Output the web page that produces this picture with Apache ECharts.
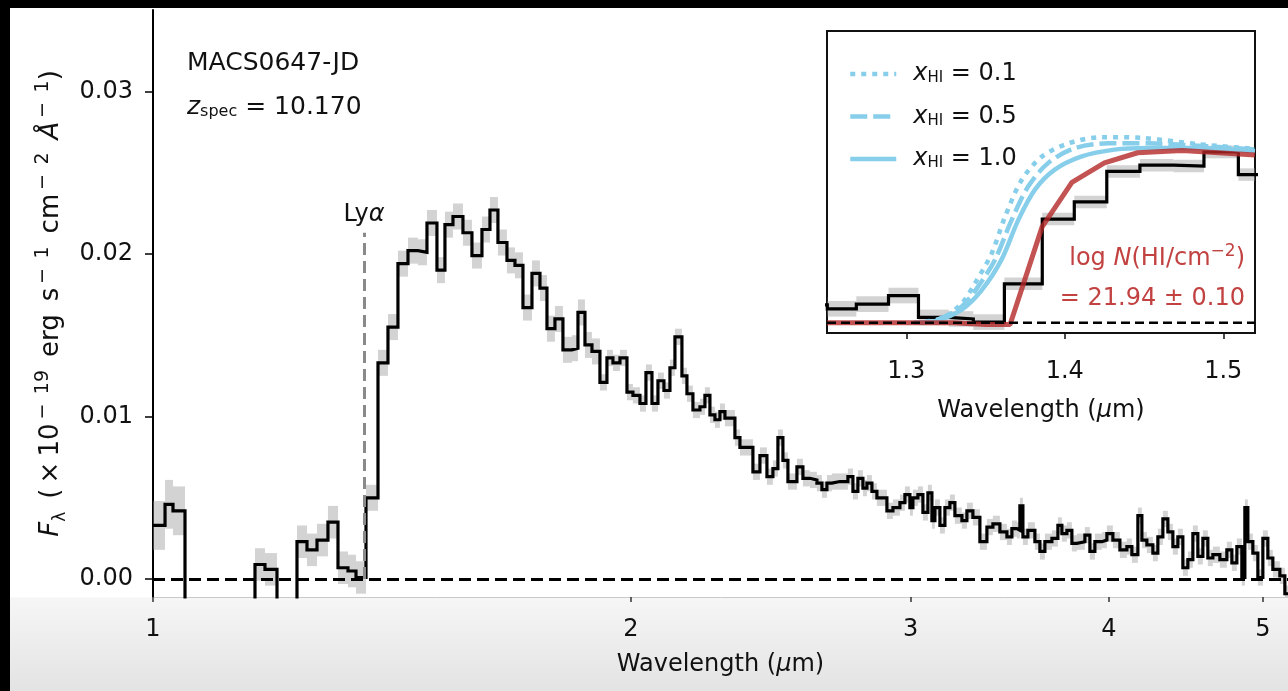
<!DOCTYPE html>
<html>
<head>
<meta charset="utf-8">
<title>MACS0647-JD spectrum</title>
<script src="https://cdn.jsdelivr.net/npm/echarts@6/dist/echarts.min.js"></script>
<style>
  html, body { margin: 0; padding: 0; background: #000; }
  #frame { position: absolute; left: 10px; top: 8px; width: 1278px; height: 683px;
    background: linear-gradient(to bottom, #fff 0, #fff 589px, #f6f6f6 590px, #e3e3e3 100%); }
  #main { position: absolute; left: 0; top: 0; width: 1288px; height: 691px; }
</style>
</head>
<body>
<div id="frame"></div>
<div id="main"></div>
<script>
var FONT = 'DejaVu Sans';

// left bin edges (micron) and flux (1e-19 erg/s/cm2/A)
var binEdges = [
  1.0000, 1.0176, 1.0294, 1.0475, 1.0862, 1.1214, 1.1427, 1.1594, 1.1763, 1.1970,
  1.2145, 1.2322, 1.2502, 1.2685, 1.2888, 1.3077, 1.3268, 1.3423, 1.3619, 1.3858,
  1.4060, 1.4265, 1.4474, 1.4685, 1.4878, 1.5095, 1.5271, 1.5450, 1.5675, 1.5881,
  1.6113, 1.6301, 1.6491, 1.6708, 1.6903, 1.7100, 1.7325, 1.7527, 1.7706, 1.7912,
  1.8121, 1.8359, 1.8520, 1.8709, 1.8900, 1.9120, 1.9315, 1.9484, 1.9683, 1.9884,
  2.0057, 2.0262, 2.0439, 2.0618, 2.0798, 2.0979, 2.1163, 2.1317, 2.1534, 2.1691,
  2.1880, 2.2104, 2.2264, 2.2426, 2.2590, 2.2754, 2.2920, 2.3254, 2.3424, 2.3869,
  2.4113, 2.4359, 2.4571, 2.4750, 2.4930, 2.5112, 2.5442, 2.5664, 2.5926, 2.6190,
  2.6381, 2.6573, 2.6766, 2.7078, 2.7394, 2.7594, 2.7794, 2.7997, 2.8160, 2.8365,
  2.8571, 2.8988, 2.9242, 2.9540, 2.9755, 2.9971, 3.0102, 3.0321, 3.0542, 3.0764,
  3.0943, 3.1078, 3.1304, 3.1532, 3.1761, 3.1992, 3.2319, 3.2554, 3.2838, 3.3173,
  3.3512, 3.3805, 3.4149, 3.4498, 3.4749, 3.5002, 3.5154, 3.5308, 3.5564, 3.5927,
  3.6189, 3.6452, 3.6824, 3.7146, 3.7362, 3.7634, 3.7907, 3.8183, 3.8629, 3.8910,
  3.9193, 3.9593, 3.9881, 4.0229, 4.0640, 4.1054, 4.1353, 4.1714, 4.1957, 4.2262,
  4.2631, 4.2941, 4.3254, 4.3569, 4.3886, 4.4205, 4.4526, 4.4850, 4.5177, 4.5505,
  4.5837, 4.6170, 4.6506, 4.6980, 4.7460, 4.7805, 4.8153, 4.8503, 4.8715, 4.8927,
  4.9283, 4.9642, 5.0003, 5.0367, 5.0733, 5.1251, 5.1624
];
var binFlux = [
  0.0033, 0.0046, 0.0042, -0.0040, -0.0050, -0.0040, -0.0025, 0.0009, 0.0006, -0.0030,
  -0.0022, 0.0023, 0.0018, 0.0024, 0.0035, 0.0007, 0.0005, 0.0001, 0.0050, 0.0133,
  0.0155, 0.0194, 0.0202, 0.0201, 0.0219, 0.0190, 0.0218, 0.0223, 0.0213, 0.0199,
  0.0215, 0.0227, 0.0207, 0.0196, 0.0193, 0.0167, 0.0188, 0.0179, 0.0154, 0.0160,
  0.0141, 0.0142, 0.0164, 0.0144, 0.0140, 0.0121, 0.0136, 0.0133, 0.0136, 0.0115,
  0.0113, 0.0108, 0.0127, 0.0108, 0.0122, 0.0116, 0.0130, 0.0149, 0.0125, 0.0114,
  0.0104, 0.0106, 0.0113, 0.0101, 0.0098, 0.0103, 0.0099, 0.0087, 0.0081, 0.0066,
  0.0076, 0.0063, 0.0068, 0.0087, 0.0073, 0.0060, 0.0069, 0.0062, 0.0061, 0.0059,
  0.0055, 0.0059, 0.0060, 0.0060, 0.0063, 0.0054, 0.0062, 0.0056, 0.0059, 0.0054,
  0.0050, 0.0042, 0.0044, 0.0047, 0.0052, 0.0044, 0.0050, 0.0052, 0.0041, 0.0053,
  0.0036, 0.0044, 0.0033, 0.0044, 0.0047, 0.0039, 0.0036, 0.0042, 0.0038, 0.0023,
  0.0032, 0.0034, 0.0029, 0.0026, 0.0031, 0.0030, 0.0045, 0.0026, 0.0030, 0.0023,
  0.0017, 0.0023, 0.0025, 0.0033, 0.0028, 0.0030, 0.0022, 0.0023, 0.0027, 0.0017,
  0.0023, 0.0024, 0.0028, 0.0024, 0.0018, 0.0020, 0.0015, 0.0039, 0.0024, 0.0021,
  0.0016, 0.0026, 0.0037, 0.0029, 0.0020, 0.0026, 0.0007, 0.0012, 0.0028, 0.0014,
  0.0025, 0.0013, 0.0015, 0.0012, 0.0018, 0.0010, 0.0020, 0.0001, 0.0044, 0.0023,
  0.0016, 0.0001, 0.0025, 0.0013, 0.0006, 0.0002, -0.0009
];
var lastEdge = 5.2;

// 1-sigma uncertainty, per wavelength range (upper limit of each range)
var errUpTo = [1.05, 1.36, 1.9, 6.0];
var errSize = [0.0015, 0.0010, 0.0008, 0.0005];

var yTicks = [0, 0.01, 0.02, 0.03];
var xTicks = [1, 2, 3, 4, 5];
var insetTicks = [1.3, 1.4, 1.5];

var lyaWave = 1.358;
var lyaTop = 0.0213;

// inset: damping-wing fit and IGM models
var fitWave = [1.25, 1.33, 1.35, 1.3655, 1.3857, 1.4045, 1.425, 1.446, 1.474, 1.52];
var fitFlux = [0, 0, -0.0002, -0.0002, 0.0123, 0.0180, 0.0205, 0.0218, 0.0221, 0.0215];

var x01Wave = [1.305, 1.3224, 1.335, 1.3434, 1.3539, 1.3623, 1.3728, 1.3855, 1.4022, 1.4233, 1.4485, 1.484, 1.52];
var x01Flux = [0, 0.0006, 0.0025, 0.0051, 0.0089, 0.0136, 0.0183, 0.0213, 0.0230, 0.0238, 0.0237, 0.0229, 0.0223];
var x05Wave = [1.305, 1.318, 1.335, 1.3455, 1.356, 1.3665, 1.377, 1.3896, 1.4065, 1.4275, 1.4525, 1.484, 1.52];
var x05Flux = [0, 0.0003, 0.0021, 0.0047, 0.0081, 0.0132, 0.0175, 0.0205, 0.0224, 0.0230, 0.0230, 0.0227, 0.0222];
var x10Wave = [1.305, 1.318, 1.335, 1.3476, 1.3601, 1.3707, 1.3813, 1.3935, 1.4103, 1.4314, 1.4525, 1.484, 1.52];
var x10Flux = [0, 0.0002, 0.0017, 0.0042, 0.0081, 0.0132, 0.0171, 0.0196, 0.0213, 0.0222, 0.0224, 0.0224, 0.0220];

var insetZero = [[1.25, 0], [1.52, 0]];

var legendLabels = {
  'x01': '{i|x}{s|HI}{n| = 0.1}',
  'x05': '{i|x}{s|HI}{n| = 0.5}',
  'x10': '{i|x}{s|HI}{n| = 1.0}'
};

function pairs(xs, ys) {
  return xs.map(function (x, i) { return [x, ys[i]]; });
}

var stepData = pairs(binEdges, binFlux);
stepData.push([lastEdge, binFlux[binFlux.length - 1]]);

function errorAt(w) {
  for (var i = 0; i < errUpTo.length; i++) {
    if (w < errUpTo[i]) return errSize[i];
  }
  return errSize[errSize.length - 1];
}

var bandData = binEdges.map(function (w, i) {
  var right = i + 1 < binEdges.length ? binEdges[i + 1] : lastEdge;
  var e = errorAt(w);
  return [w, right, binFlux[i] - e, binFlux[i] + e];
});

function renderBand(params, api) {
  var a = api.coord([api.value(0), api.value(3)]);
  var b = api.coord([api.value(1), api.value(2)]);
  var cs = params.coordSys;
  var shape = echarts.graphic.clipRectByRect(
    {x: a[0], y: a[1], width: b[0] - a[0], height: b[1] - a[1]},
    {x: cs.x, y: cs.y, width: cs.width, height: cs.height}
  );
  return shape && {type: 'rect', shape: shape, style: {fill: 'rgba(150,150,150,0.42)'}};
}

var richBase = {
  i: {fontFamily: FONT, fontSize: 24, fontStyle: 'italic', color: '#111'},
  s: {fontFamily: FONT, fontSize: 15, color: '#111', verticalAlign: 'bottom', lineHeight: 12},
  n: {fontFamily: FONT, fontSize: 24, color: '#111'},
  t: {fontFamily: FONT, fontSize: 24, color: '#111'}
};

// mathtext-like spacing: en space between words, spaced minus in superscripts
var SP = '\u2002';
var SUP = '\u2009\u2212\u2002';

var yName = '{f|F}{l|λ}{t|' + SP + '(\u2009×\u200910}{u|' + SUP + '19}{t|' + SP + 'erg' + SP + 's}{u|' +
  SUP + '1}{t|' + SP + 'cm}{u|' + SUP + '2}{t|' + SP + '}{a|Å}{u|' + SUP + '1}{t|)}';

var chart = echarts.init(document.getElementById('main'));

var option = {
  animation: false,
  backgroundColor: 'transparent',
  textStyle: {fontFamily: FONT},
  grid: [
    {left: 153, top: 10, right: 0, bottom: 94, show: false},
    {left: 827, top: 31, width: 428, height: 302, show: true,
      backgroundColor: '#fff', borderColor: '#111', borderWidth: 2}
  ],
  xAxis: [
    {
      gridIndex: 0, type: 'log', logBase: 10, min: 1, max: 5.186,
      axisLine: {onZero: false, lineStyle: {color: '#c9c9c9', width: 1}},
      axisTick: {customValues: xTicks, length: 5, lineStyle: {color: '#333', width: 1.5}},
      axisLabel: {customValues: xTicks, margin: 21, fontSize: 24, color: '#111',
        formatter: function (v) { return String(Math.round(v)); }},
      minorTick: {show: false}, splitLine: {show: false},
      name: 'Wavelength ({i|μ}m)', nameLocation: 'middle', nameGap: 56,
      nameTextStyle: {fontSize: 24, color: '#111', rich: richBase}
    },
    {
      gridIndex: 1, type: 'value', min: 1.25, max: 1.52,
      axisLine: {show: false, onZero: false},
      axisTick: {customValues: insetTicks, length: 6, lineStyle: {color: '#111', width: 1.5}},
      axisLabel: {customValues: insetTicks, margin: 27, fontSize: 24, color: '#111',
        formatter: function (v) { return v.toFixed(1); }},
      splitLine: {show: false},
      name: 'Wavelength ({i|μ}m)', nameLocation: 'middle', nameGap: 66,
      nameTextStyle: {fontSize: 24, color: '#111', rich: richBase}
    }
  ],
  yAxis: [
    {
      gridIndex: 0, type: 'value', min: -0.0011, max: 0.035,
      axisLine: {show: true, onZero: false, lineStyle: {color: '#000', width: 2}},
      axisTick: {show: true, customValues: yTicks, length: 8, lineStyle: {color: '#000', width: 1.5}},
      axisLabel: {customValues: yTicks, margin: 20, fontSize: 24, color: '#111',
        formatter: function (v) { return v.toFixed(2); }},
      splitLine: {show: false},
      name: yName,
      nameLocation: 'middle', nameGap: 83, nameRotate: 90,
      nameTextStyle: {
        fontSize: 26, color: '#111',
        rich: {
          f: {fontFamily: FONT, fontSize: 26, fontStyle: 'italic', color: '#111', lineHeight: 35},
          l: {fontFamily: FONT, fontSize: 17, color: '#111', verticalAlign: 'bottom', lineHeight: 18},
          t: {fontFamily: FONT, fontSize: 26, color: '#111', lineHeight: 35},
          a: {fontFamily: FONT, fontSize: 26, fontStyle: 'italic', color: '#111', lineHeight: 35},
          u: {fontFamily: FONT, fontSize: 19, color: '#111', verticalAlign: 'top', lineHeight: 14}
        }
      }
    },
    {
      gridIndex: 1, type: 'value', min: -0.0013, max: 0.0374,
      axisLine: {show: false}, axisTick: {show: false}, axisLabel: {show: false},
      splitLine: {show: false}
    }
  ],
  legend: {
    data: ['x01', 'x05', 'x10'],
    orient: 'vertical', left: 848, top: 62, padding: 0,
    itemWidth: 46, itemHeight: 26, itemGap: 18.5,
    selectedMode: false,
    lineStyle: {width: 'inherit'},
    itemStyle: {opacity: 0},
    formatter: function (name) { return legendLabels[name]; },
    textStyle: {fontSize: 24, color: '#111', rich: {
      i: {fontFamily: FONT, fontSize: 24, fontStyle: 'italic', color: '#111', padding: [0, 0, 0, 12]},
      s: richBase.s, n: richBase.n
    }}
  },
  graphic: [
    {type: 'text', left: 187, top: 51, z: 50,
      style: {text: 'MACS0647-JD', fontFamily: FONT, fontSize: 25, fill: '#111'}},
    {type: 'text', left: 187, top: 95, z: 50,
      style: {text: '{i|z}{s|spec}{n| = 10.170}', fontFamily: FONT, fontSize: 25, fill: '#111',
        rich: {
          i: {fontFamily: FONT, fontSize: 25, fontStyle: 'italic', fill: '#111'},
          s: {fontFamily: FONT, fontSize: 16, fill: '#111', verticalAlign: 'bottom', lineHeight: 12},
          n: {fontFamily: FONT, fontSize: 25, fill: '#111'}
        }}},
    {type: 'text', right: 43, top: 243, z: 50,
      style: {text: '{t|log }{i|N}{t|(HI/cm}{u|\u22122}{t|)}', fontFamily: FONT, fontSize: 24, fill: '#c24141',
        rich: {
          t: {fontFamily: FONT, fontSize: 24, fill: '#c24141', lineHeight: 32},
          i: {fontFamily: FONT, fontSize: 24, fontStyle: 'italic', fill: '#c24141', lineHeight: 32},
          u: {fontFamily: FONT, fontSize: 17, fill: '#c24141', verticalAlign: 'top', lineHeight: 14}
        }}},
    {type: 'text', right: 43, top: 287, z: 50,
      style: {text: '= 21.94 ± 0.10', fontFamily: FONT, fontSize: 24, fill: '#c24141'}}
  ],
  series: [
    {
      name: 'err', type: 'custom', xAxisIndex: 0, yAxisIndex: 0, z: 1,
      renderItem: renderBand, encode: {x: [0, 1], y: [2, 3]}, data: bandData
    },
    {
      name: 'spec', type: 'line', xAxisIndex: 0, yAxisIndex: 0, z: 3,
      step: 'end', symbol: 'none', data: stepData,
      lineStyle: {color: '#000', width: 3.2, join: 'miter'},
      markLine: {
        silent: true, symbol: ['none', 'none'], z: 4,
        data: [
          {yAxis: 0, lineStyle: {color: '#000', width: 3, type: [12, 6]}, label: {show: false}},
          [
            {coord: [lyaWave, 0], lineStyle: {color: '#8a8a8a', width: 3, type: [12, 6]},
              label: {show: true, position: 'end', distance: 6, formatter: 'Ly{a|α}',
                fontSize: 24, color: '#111',
                rich: {a: {fontFamily: FONT, fontSize: 24, fontStyle: 'italic', color: '#111'}}}},
            {coord: [lyaWave, lyaTop]}
          ]
        ]
      }
    },
    {
      name: 'errInset', type: 'custom', xAxisIndex: 1, yAxisIndex: 1, z: 6,
      renderItem: renderBand, encode: {x: [0, 1], y: [2, 3]}, data: bandData
    },
    {
      name: 'specInset', type: 'line', xAxisIndex: 1, yAxisIndex: 1, z: 7,
      step: 'end', symbol: 'none', data: stepData,
      lineStyle: {color: '#000', width: 3.2, join: 'miter'}
    },
    {
      name: 'x01', type: 'line', xAxisIndex: 1, yAxisIndex: 1, z: 8,
      symbol: 'none', smooth: 0.3, data: pairs(x01Wave, x01Flux),
      itemStyle: {color: '#87ceeb'},
      lineStyle: {color: '#87ceeb', width: 4.5, type: [5, 6]}
    },
    {
      name: 'x05', type: 'line', xAxisIndex: 1, yAxisIndex: 1, z: 8,
      symbol: 'none', smooth: 0.3, data: pairs(x05Wave, x05Flux),
      itemStyle: {color: '#87ceeb'},
      lineStyle: {color: '#87ceeb', width: 4.5, type: [17, 6]}
    },
    {
      name: 'x10', type: 'line', xAxisIndex: 1, yAxisIndex: 1, z: 8,
      symbol: 'none', smooth: 0.3, data: pairs(x10Wave, x10Flux),
      itemStyle: {color: '#87ceeb'},
      lineStyle: {color: '#87ceeb', width: 4.5}
    },
    {
      name: 'fit', type: 'line', xAxisIndex: 1, yAxisIndex: 1, z: 9,
      symbol: 'none', data: pairs(fitWave, fitFlux),
      lineStyle: {color: 'rgba(180,40,40,0.8)', width: 5}
    },
    {
      name: 'zeroInset', type: 'line', xAxisIndex: 1, yAxisIndex: 1, z: 10,
      symbol: 'none', data: insetZero,
      lineStyle: {color: '#000', width: 2.5, type: [9, 5]}
    }
  ]
};

chart.setOption(option);
</script>
</body>
</html>
